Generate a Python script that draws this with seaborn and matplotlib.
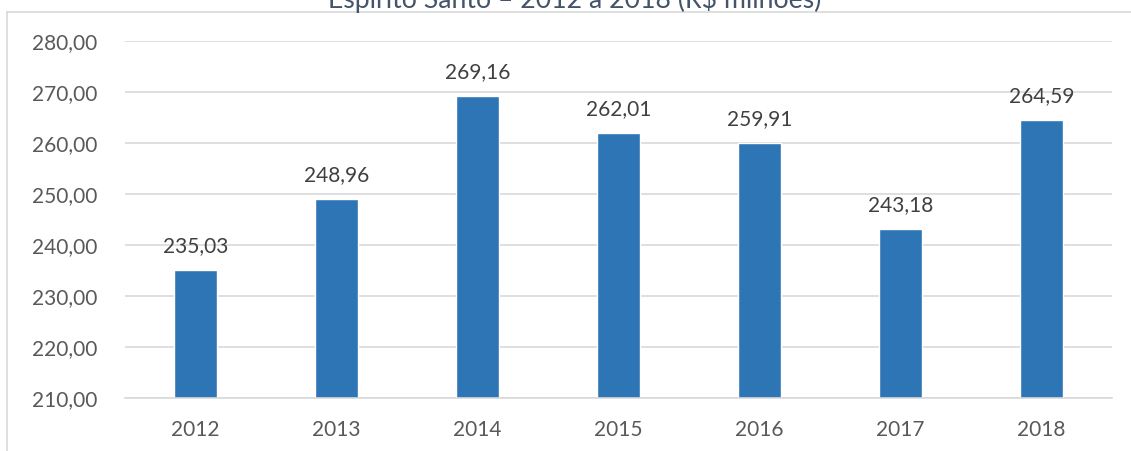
import matplotlib
matplotlib.use("Agg")
import matplotlib.pyplot as plt
import seaborn as sns
import pandas as pd
from matplotlib.lines import Line2D

years = ["2012", "2013", "2014", "2015", "2016", "2017", "2018"]
values = [235.03, 248.96, 269.16, 262.01, 259.91, 243.18, 264.59]
yticks = [210, 220, 230, 240, 250, 260, 270, 280]
title = "Espírito Santo – 2012 a 2018 (R$ milhões)"

sns.set_theme(style="white")
plt.rcParams["font.family"] = ["Lato", "DejaVu Sans"]

df = pd.DataFrame({"ano": years, "valor": values})

fig = plt.figure(figsize=(11.31, 4.51), dpi=100)
ax = fig.add_axes([125 / 1131, 1 - 398 / 451, (1112 - 125) / 1131, (398 - 41) / 451])

sns.barplot(data=df, x="ano", y="valor", color="#2E75B6", width=0.31,
            saturation=1, ax=ax, zorder=3)

ax.set_ylim(210, 280)
ax.set_yticks(yticks)
ax.set_yticklabels([f"{v:.2f}".replace(".", ",") for v in yticks])
ax.set_xlabel("")
ax.set_ylabel("")
ax.grid(axis="y", color="#D9D9D9", linewidth=1.2, zorder=0)
ax.grid(axis="x", visible=False)
for s in ["left", "right", "top"]:
    ax.spines[s].set_visible(False)
ax.spines["bottom"].set_color("#D9D9D9")
ax.spines["bottom"].set_linewidth(1.2)
ax.spines["bottom"].set_zorder(4)
ax.tick_params(axis="both", length=0, labelsize=15, labelcolor="#595959")
ax.tick_params(axis="y", pad=20)
ax.tick_params(axis="x", pad=16)

for p, v in zip(ax.patches, values):
    ax.annotate(f"{v:.2f}".replace(".", ","),
                (p.get_x() + p.get_width() / 2, p.get_height()),
                xytext=(0, 10), textcoords="offset points",
                ha="center", va="bottom", fontsize=15, color="#404040")

# chart area border (left and top)
fig.add_artist(Line2D([7 / 1131, 7 / 1131], [0, 1 - 12 / 451],
                      transform=fig.transFigure, color="#D9D9D9", linewidth=1.2))
fig.add_artist(Line2D([7 / 1131, 1], [1 - 12 / 451, 1 - 12 / 451],
                      transform=fig.transFigure, color="#D9D9D9", linewidth=1.2))

# title (cut off at the top edge, as in the reference)
fig.text(575 / 1131, 1 - 8 / 451, title, ha="center", va="baseline",
         fontsize=19.2, color="#44546A")

fig.savefig("out.png", dpi=100)
